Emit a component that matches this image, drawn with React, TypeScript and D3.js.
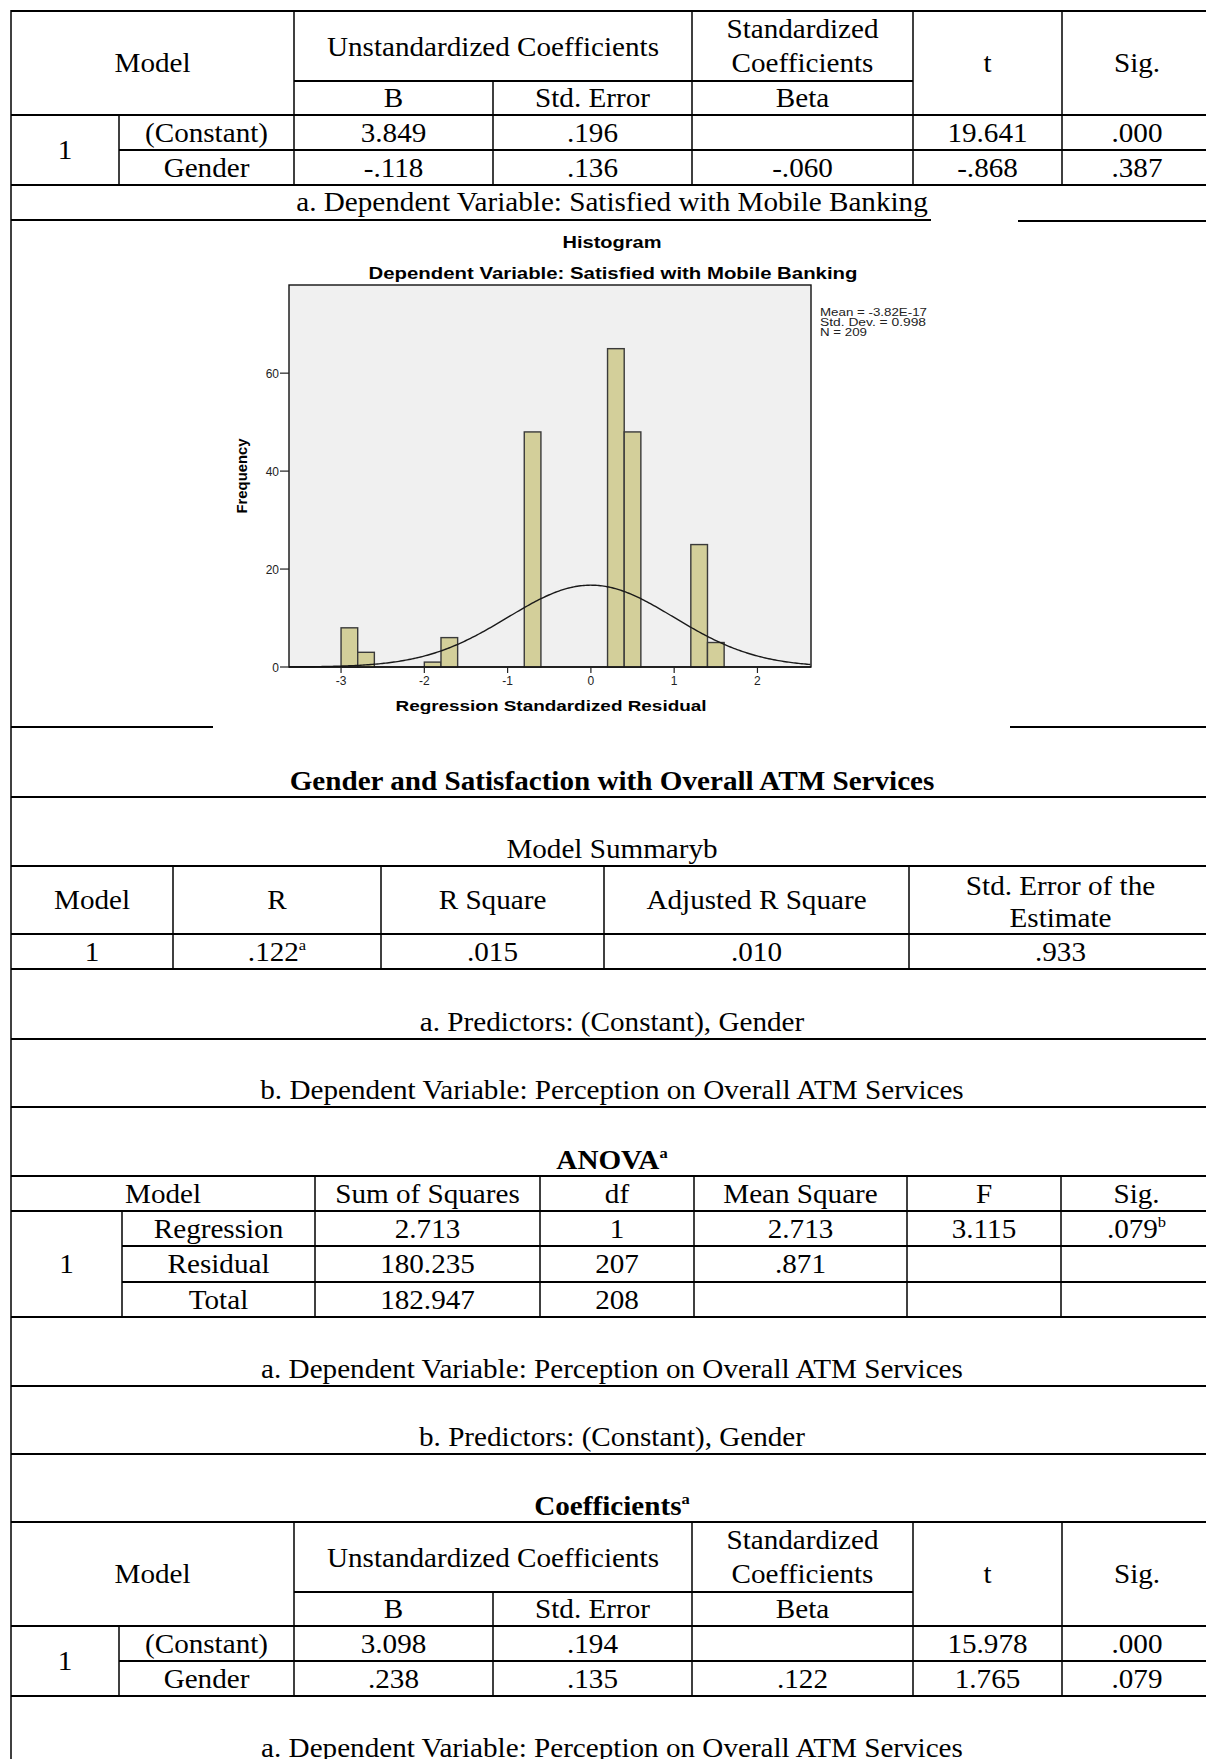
import React from 'react';
import * as d3 from 'd3';

// ---- Coefficients: mobile banking ----
const coefColumns = ['Model', 'Unstandardized Coefficients', 'Standardized Coefficients', 't', 'Sig.'];
const coefSubColumns = ['B', 'Std. Error', 'Beta'];
const predictors = ['(Constant)', 'Gender'];
const mobileB = ['3.849', '-.118'];
const mobileStdErr = ['.196', '.136'];
const mobileBeta = ['', '-.060'];
const mobileT = ['19.641', '-.868'];
const mobileSig = ['.000', '.387'];
const mobileNote = 'a. Dependent Variable: Satisfied with Mobile Banking';

// ---- Histogram of residuals ----
const histTitle = 'Histogram';
const histSubtitle = 'Dependent Variable: Satisfied with Mobile Banking';
const binStarts = [-3.0, -2.8, -2.0, -1.8, -0.8, 0.2, 0.4, 1.2, 1.4];
const binCounts = [8, 3, 1, 6, 48, 65, 48, 25, 5];
const binWidth = 0.2;
const xTicks = [-3, -2, -1, 0, 1, 2];
const yTicks = [0, 20, 40, 60];
const residStats = ['Mean = -3.82E-17', 'Std. Dev. = 0.998', 'N = 209'];
const residMean = -3.82e-17;
const residSd = 0.998;
const residN = 209;

// ---- ATM section ----
const atmTitle = 'Gender and Satisfaction with Overall ATM Services';
const summaryTitle = 'Model Summaryb';
const summaryColumns = ['Model', 'R', 'R Square', 'Adjusted R Square', 'Std. Error of the Estimate'];
const summaryValues = ['1', '.122', '.015', '.010', '.933'];
const summaryNotes = ['a. Predictors: (Constant), Gender', 'b. Dependent Variable: Perception on Overall ATM Services'];

const anovaColumns = ['Model', 'Sum of Squares', 'df', 'Mean Square', 'F', 'Sig.'];
const anovaSources = ['Regression', 'Residual', 'Total'];
const anovaSS = ['2.713', '180.235', '182.947'];
const anovaDf = ['1', '207', '208'];
const anovaMS = ['2.713', '.871', ''];
const anovaF = ['3.115', '', ''];
const anovaSig = ['.079', '', ''];
const anovaNotes = ['a. Dependent Variable: Perception on Overall ATM Services', 'b. Predictors: (Constant), Gender'];

const atmB = ['3.098', '.238'];
const atmStdErr = ['.194', '.135'];
const atmBeta = ['', '.122'];
const atmT = ['15.978', '1.765'];
const atmSig = ['.000', '.079'];
const atmNote = 'a. Dependent Variable: Perception on Overall ATM Services';

// ---- layout ----
const W = 1206;
const H = 1759;
const L = 11;
const R = 1212; // tables run slightly past the right edge
const CX = 612;
const FS = 26.5;
const SX = 1.1;
const serif = '"Liberation Serif", "Times New Roman", serif';
const sans = '"Liberation Sans", Arial, sans-serif';
const mid = (a: number, b: number) => (a + b) / 2;

const T = ({ x, y, children, bold = false, sup = '' }: any) => (
  <text
    transform={`translate(${x},${y}) scale(${SX},1)`}
    textAnchor="middle"
    fontFamily={serif}
    fontSize={FS}
    fontWeight={bold ? 'bold' : 'normal'}
    fill="#000"
  >
    {children}
    {sup && <tspan dy={-11} fontSize={15}>{sup}</tspan>}
  </text>
);

const hl = (x1: number, x2: number, y: number) => (
  <line x1={x1} x2={x2} y1={y} y2={y} stroke="#000" strokeWidth={2} />
);
const vl = (x: number, y1: number, y2: number) => (
  <line x1={x} x2={x} y1={y1} y2={y2} stroke="#000" strokeWidth={1.5} />
);

const coefCols = [L, 119, 294, 493, 692, 913, 1062, R];

function CoefTable({ top, b, se, beta, t, sig }: any) {
  const c = coefCols;
  const r = [top, top + 70, top + 104, top + 139, top + 174];
  const values = [b, se, beta, t, sig];
  const centers = [mid(c[2], c[3]), mid(c[3], c[4]), mid(c[4], c[5]), mid(c[5], c[6]), mid(c[6], c[7])];
  const stdWords = coefColumns[2].split(' ');
  return (
    <g>
      {hl(c[0], R, r[0])}
      {hl(c[2], c[5], r[1])}
      {hl(c[0], R, r[2])}
      {hl(c[1], R, r[3])}
      {hl(c[0], R, r[4])}
      {vl(c[1], r[2], r[4])}
      {vl(c[2], r[0], r[4])}
      {vl(c[3], r[1], r[4])}
      {vl(c[4], r[0], r[4])}
      {vl(c[5], r[0], r[4])}
      {vl(c[6], r[0], r[4])}
      <T x={mid(c[0], c[2])} y={r[0] + 61}>{coefColumns[0]}</T>
      <T x={mid(c[2], c[4])} y={r[0] + 45}>{coefColumns[1]}</T>
      <T x={mid(c[4], c[5])} y={r[0] + 27}>{stdWords[0]}</T>
      <T x={mid(c[4], c[5])} y={r[0] + 61}>{stdWords[1]}</T>
      <T x={mid(c[5], c[6])} y={r[0] + 61}>{coefColumns[3]}</T>
      <T x={mid(c[6], c[7])} y={r[0] + 61}>{coefColumns[4]}</T>
      {coefSubColumns.map((s, i) => (
        <T key={s} x={centers[i]} y={r[1] + 26}>{s}</T>
      ))}
      <T x={mid(c[0], c[1])} y={mid(r[2], r[4]) + 9}>1</T>
      {predictors.map((p, i) => (
        <g key={p}>
          <T x={mid(c[1], c[2])} y={mid(r[2 + i], r[3 + i]) + 9}>{p}</T>
          {values.map((v: string[], j: number) => (
            <T key={j} x={centers[j]} y={mid(r[2 + i], r[3 + i]) + 9}>{v[i]}</T>
          ))}
        </g>
      ))}
    </g>
  );
}

function Histogram() {
  const x = d3.scaleLinear().domain([-3.625, 2.643]).range([289, 811]);
  const y = d3.scaleLinear().domain([0, 78]).range([667, 285]);
  const pdf = (v: number) =>
    (residN * binWidth) / (residSd * Math.sqrt(2 * Math.PI)) *
    Math.exp(-0.5 * ((v - residMean) / residSd) ** 2);
  const xs = d3.range(-3.625, 2.645, 0.02);
  const curve = d3.line<number>().x((v) => x(v)).y((v) => y(pdf(v)))(xs) || '';
  return (
    <g fontFamily={sans}>
      <text x={612} y={248} textAnchor="middle" fontWeight="bold" fontSize={16.5}
        textLength={99} lengthAdjust="spacingAndGlyphs">{histTitle}</text>
      <text x={613} y={279} textAnchor="middle" fontWeight="bold" fontSize={16.5}
        textLength={489} lengthAdjust="spacingAndGlyphs">{histSubtitle}</text>
      <rect x={x(-3.625)} y={y(78)} width={x(2.643) - x(-3.625)} height={y(0) - y(78)}
        fill="#f0f0f0" stroke="#111" strokeWidth={1.4} />
      {binStarts.map((s, i) => (
        <rect key={i} x={x(s)} y={y(binCounts[i])} width={x(s + binWidth) - x(s)}
          height={y(0) - y(binCounts[i])} fill="#d3cf9a" stroke="#3a3a3a" strokeWidth={1.4} />
      ))}
      <path d={curve} fill="none" stroke="#1a1a1a" strokeWidth={1.4} />
      <line x1={x(-3.625)} x2={x(2.643)} y1={y(0)} y2={y(0)} stroke="#111" strokeWidth={1.6} />
      {yTicks.map((v) => (
        <g key={v}>
          <line x1={x(-3.625) - 9} x2={x(-3.625)} y1={y(v)} y2={y(v)} stroke="#222" strokeWidth={1.2} />
          <text x={x(-3.625) - 10} y={y(v) + 4.5} textAnchor="end" fontSize={12} fill="#222">{v}</text>
        </g>
      ))}
      {xTicks.map((v) => (
        <g key={v}>
          <line x1={x(v)} x2={x(v)} y1={y(0)} y2={y(0) + 6} stroke="#222" strokeWidth={1.2} />
          <text x={x(v)} y={y(0) + 18} textAnchor="middle" fontSize={12} fill="#222">{v}</text>
        </g>
      ))}
      <text transform="translate(247,476) rotate(-90)" textAnchor="middle" fontWeight="bold"
        fontSize={15} textLength={75} lengthAdjust="spacingAndGlyphs">Frequency</text>
      <text x={551} y={711} textAnchor="middle" fontWeight="bold" fontSize={15}
        textLength={311} lengthAdjust="spacingAndGlyphs">Regression Standardized Residual</text>
      {residStats.map((s, i) => (
        <text key={s} x={820} y={316 + i * 10} fontSize={10} fill="#222"
          textLength={[107, 106, 47][i]} lengthAdjust="spacingAndGlyphs">{s}</text>
      ))}
    </g>
  );
}

function SummaryTable() {
  const c = [L, 173, 381, 604, 909, R];
  const r = [866, 934, 969];
  const stdWords = summaryColumns[4].split(' ');
  return (
    <g>
      {r.map((v) => <g key={v}>{hl(L, R, v)}</g>)}
      {c.slice(1, 5).map((v) => <g key={v}>{vl(v, r[0], r[2])}</g>)}
      {summaryColumns.slice(0, 4).map((s, i) => (
        <T key={s} x={mid(c[i], c[i + 1])} y={mid(r[0], r[1]) + 9}>{s}</T>
      ))}
      <T x={mid(c[4], c[5])} y={895}>{stdWords.slice(0, 4).join(' ')}</T>
      <T x={mid(c[4], c[5])} y={927}>{stdWords[4]}</T>
      {summaryValues.map((s, i) => (
        <T key={i} x={mid(c[i], c[i + 1])} y={mid(r[1], r[2]) + 9} sup={i === 1 ? 'a' : ''}>{s}</T>
      ))}
    </g>
  );
}

function AnovaTable() {
  const c = [L, 122, 315, 540, 694, 907, 1061, R];
  const r = [1176, 1211, 1246, 1282, 1317];
  const cols = [anovaSS, anovaDf, anovaMS, anovaF, anovaSig];
  return (
    <g>
      {hl(L, R, r[0])}
      {hl(L, R, r[1])}
      {hl(c[1], R, r[2])}
      {hl(c[1], R, r[3])}
      {hl(L, R, r[4])}
      {vl(c[1], r[1], r[4])}
      {c.slice(2, 7).map((v) => <g key={v}>{vl(v, r[0], r[4])}</g>)}
      <T x={mid(c[0], c[2])} y={mid(r[0], r[1]) + 9}>{anovaColumns[0]}</T>
      {anovaColumns.slice(1).map((s, i) => (
        <T key={s} x={mid(c[i + 2], c[i + 3])} y={mid(r[0], r[1]) + 9}>{s}</T>
      ))}
      <T x={mid(c[0], c[1])} y={mid(r[1], r[4]) + 9}>1</T>
      {anovaSources.map((s, i) => (
        <g key={s}>
          <T x={mid(c[1], c[2])} y={mid(r[1 + i], r[2 + i]) + 9}>{s}</T>
          {cols.map((col, j) => (
            <T key={j} x={mid(c[j + 2], c[j + 3])} y={mid(r[1 + i], r[2 + i]) + 9}
              sup={j === 4 && col[i] ? 'b' : ''}>{col[i]}</T>
          ))}
        </g>
      ))}
    </g>
  );
}

export default function App() {
  return (
    <svg width={W} height={H} style={{ position: 'absolute', left: 0, top: 0, background: '#fff' }}>
      <rect width={W} height={H} fill="#fff" />
      {vl(L, 10, H)}

      <CoefTable top={11} b={mobileB} se={mobileStdErr} beta={mobileBeta} t={mobileT} sig={mobileSig} />
      <T x={CX} y={211}>{mobileNote}</T>
      {hl(L, 931, 220)}
      {hl(1018, R, 221)}

      <Histogram />
      {hl(L, 213, 727)}
      {hl(1010, R, 727)}

      <T x={CX} y={790} bold>{atmTitle}</T>
      {hl(L, R, 797)}
      <T x={CX} y={858}>{summaryTitle}</T>
      <SummaryTable />
      <T x={CX} y={1031}>{summaryNotes[0]}</T>
      {hl(L, R, 1039)}
      <T x={CX} y={1099}>{summaryNotes[1]}</T>
      {hl(L, R, 1107)}

      <T x={CX} y={1169} bold sup="a">ANOVA</T>
      <AnovaTable />
      <T x={CX} y={1378}>{anovaNotes[0]}</T>
      {hl(L, R, 1386)}
      <T x={CX} y={1446}>{anovaNotes[1]}</T>
      {hl(L, R, 1454)}

      <T x={CX} y={1515} bold sup="a">Coefficients</T>
      <CoefTable top={1522} b={atmB} se={atmStdErr} beta={atmBeta} t={atmT} sig={atmSig} />
      <T x={CX} y={1757}>{atmNote}</T>
    </svg>
  );
}
